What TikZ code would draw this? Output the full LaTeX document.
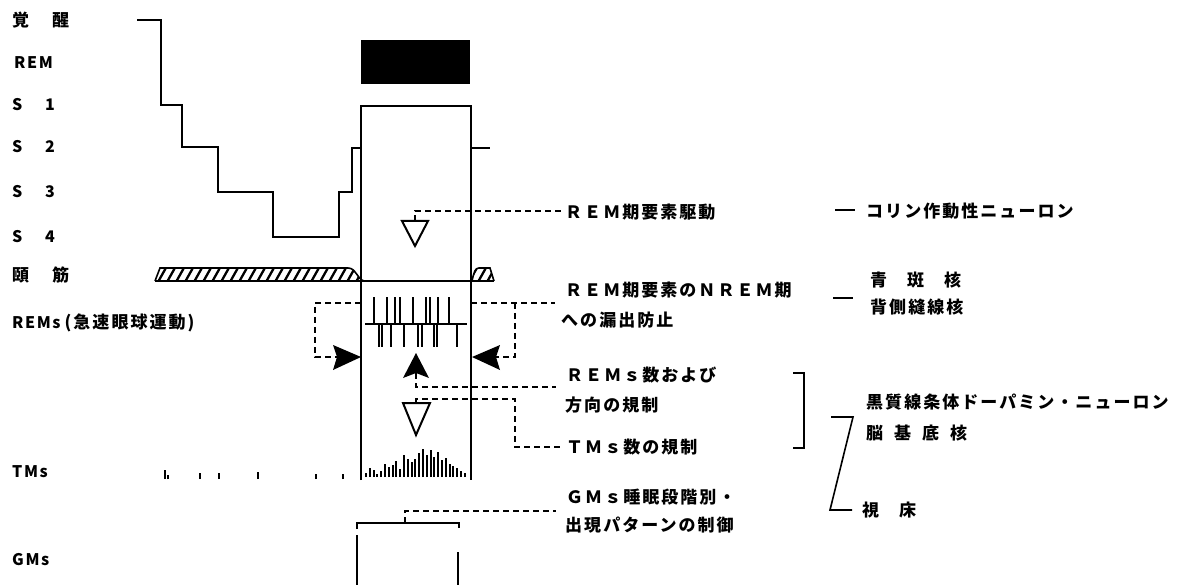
\documentclass[tikz,border=0pt]{standalone}
\usepackage{fontspec}
\newfontfamily\jp[LetterSpace=12]{Noto Sans CJK JP}
\newfontfamily\jpl[LetterSpace=10]{Noto Sans CJK JP}
\begin{document}
\begin{tikzpicture}[x=1pt,y=-1pt,
  trace/.style={line width=2pt, line join=miter},
  thin trace/.style={line width=1.6pt},
  dsh/.style={line width=1.8pt, dash pattern=on 6pt off 4pt},
  bar/.style={line width=1.9pt},
  lbl/.style={anchor=west, inner sep=0pt, font=\jp\bfseries\fontsize{17}{17}\selectfont},
  lat/.style={anchor=west, inner sep=0pt, font=\jpl\bfseries\fontsize{16}{16}\selectfont},
  arr/.style={fill=black},
  opentri/.style={line width=2pt, line join=miter}]
\useasboundingbox (0,0) rectangle (1178,585);

% ---------- left labels ----------
\node[lbl] (lwake) at (12,20) {覚\hspace{23pt}醒};
\node[lat] (lrem) at (14,63) {REM};
\foreach \n/\yy in {1/105,2/147,3/192,4/237}{
  \node[lat] (ls\n) at (12,\yy) {S};
  \node[lat] (ln\n) at (45,\yy) {\n};
}
\node[lbl] (lmus) at (12,275) {頤\hspace{23pt}筋};
\node[lat] (lrems) at (12,323) {REMs\hspace{4pt}{\jp\fontsize{17}{17}\selectfont(急速眼球運動)}};
\node[lat] (ltms) at (12,472) {TMs};
\node[lat] (lgms) at (12,560) {GMs};

% ---------- hypnogram ----------
\draw[trace] (137,20) -- (161,20) -- (161,105) -- (182,105) -- (182,147) -- (218,147)
  -- (218,192) -- (273,192) -- (273,237) -- (339,237) -- (339,192) -- (352,192)
  -- (352,148) -- (361,148);
\fill (361,40) rectangle (470,84);
\draw[trace] (361,480) -- (361,106) -- (471,106) -- (471,480);
\draw[trace] (471,148) -- (490,148);

% ---------- muscle tone ----------
\begin{scope}
  \clip (155,281) -- (160,268) -- (348,268) .. controls (356,268) and (357,279) .. (364,281) -- cycle;
  \foreach \x in {140,149,...,370} \draw[line width=2.3pt] (\x,282) -- (\x+9,266);
\end{scope}
\draw[thin trace] (155,281) -- (160,268) -- (348,268) .. controls (356,268) and (357,279) .. (364,281);
\begin{scope}
  \clip (472,281) .. controls (474,272) and (475,268) .. (479,268) -- (490,268) -- (494,281) -- cycle;
  \foreach \x in {460,469,...,500} \draw[line width=2.3pt] (\x,282) -- (\x+9,266);
\end{scope}
\draw[thin trace] (472,281) .. controls (474,272) and (475,268) .. (479,268) -- (490,268) -- (494,281);
\draw[thin trace] (155,281) -- (494,281);

% ---------- REMs ----------
\draw[bar] (365,324) -- (467,324);
\foreach \x in {374,387,395,400,413,426,430,438,449} \draw[bar] (\x,324) -- (\x,297);
\foreach \x in {379,382,391,404,418,422,434,437,457} \draw[bar] (\x,324) -- (\x,347);

% ---------- TMs ----------
\foreach \h [count=\i from 0] in {4,9,7,3,6,13,10,12,16,8,22,18,15,18,24,28,22,27,20,25,17,19,13,11,9,6,4}
  \draw[bar] ({366+3.8*\i},477) -- ++(0,-\h);
\foreach \x/\h in {165/9,168/4,200/6,219/6,258/7,316/5,343/5}
  \draw[line width=2.3pt] (\x,479) -- ++(0,-\h);

% ---------- GMs ----------
\draw[trace] (357,529) -- (357,523) -- (459,523) -- (459,528);
\draw[trace] (357,535) -- (357,585);
\draw[trace] (458,552) -- (458,585);

% ---------- markers ----------
\coordinate (tri1) at (415,221);
\draw[opentri] (402,221) -- (428,221) -- (415,246) -- cycle;
\coordinate (tri2) at (416,403);
\draw[opentri] (403,403) -- (430,403) -- (416,435) -- cycle;
\coordinate (upA) at (416,373);
\fill[arr] (416,353) -- (429,378) -- (416,373) -- (403,378) -- cycle;
\coordinate (lA) at (337,357);
\fill[arr] (361,357) -- (333,345) -- (337,357) -- (333,370) -- cycle;
\coordinate (rA) at (496,357);
\fill[arr] (472,357) -- (500,345) -- (496,357) -- (500,370) -- cycle;

% ---------- middle texts ----------
\node[lbl] (m1) at (565,212) {ＲＥＭ期要素駆動};
\node[lbl] (m2a) at (565,290) {ＲＥＭ期要素のＮＲＥＭ期};
\node[lbl] (m2b) at (561,320) {への漏出防止};
\node[lbl] (m3a) at (566,375) {ＲＥＭｓ数および};
\node[lbl] (m3b) at (565,405) {方向の規制};
\node[lbl] (m4) at (566,447) {ＴＭｓ数の規制};
\node[lbl] (m5a) at (566,497) {ＧＭｓ睡眠段階別・};
\node[lbl] (m5b) at (565,525) {出現パターンの制御};

% ---------- dashed connectors ----------
\draw[dsh] (tri1) -- (415,211) -- ([xshift=-3pt]m1.west |- 0,211);
\coordinate (c2) at (555,303);
\draw[dsh] (361,303) -- (315,303) -- (315,357) -- (lA);
\draw[dsh] (471,303) -- (c2);
\draw[dsh] (515,303) -- (515,357) -- (rA);
\coordinate (c3) at (556,387);
\draw[dsh] (upA) -- (416,387) -- (c3);
\draw[dsh] (tri2) -- (416,399) -- (515,399) -- (515,447) -- ([xshift=-5pt]m4.west);
\coordinate (c5) at (556,511);
\draw[dsh] (405,523) -- (405,511) -- (c5);

% ---------- right side ----------
\node[lbl] (r1) at (866,211) {コリン作動性ニューロン};
\draw[thin trace] (835,210) -- (855,210);
\node[lbl] (r2a) at (870,280) {青\hspace{20pt}斑\hspace{20pt}核};
\node[lbl] (r2b) at (870,307) {背側縫線核};
\draw[thin trace] (833,298) -- (853,298);
\node[lbl] (r3a) at (866,402) {黒質線条体ドーパミン・ニューロン};
\node[lbl] (r3b) at (866,433) {脳\hspace{11pt}基\hspace{11pt}底\hspace{11pt}核};
\node[lbl] (r4) at (862,510) {視\hspace{20pt}床};
\draw[thin trace] (793,373) -- (804,373) -- (804,448) -- (793,448);
\draw[thin trace] (831,417) -- (853,417) -- (830,510) -- (852,510);
\end{tikzpicture}
\end{document}
